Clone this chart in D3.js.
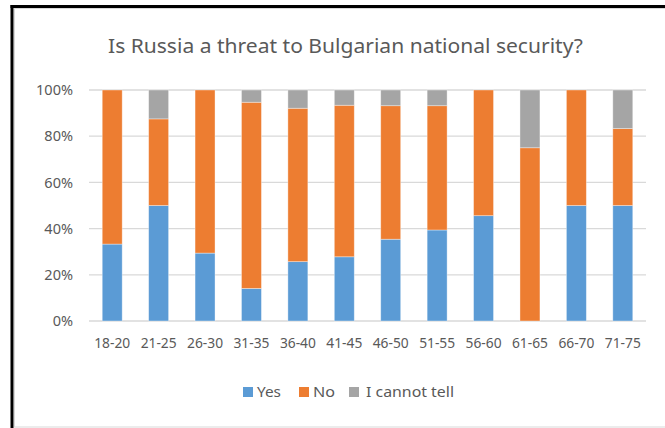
<!DOCTYPE html>
<html><head><meta charset="utf-8">
<script src="https://cdn.jsdelivr.net/npm/d3@7"></script>
<style>body{margin:0;background:#fff}svg{display:block}</style>
</head><body>
<svg id="c" width="665" height="428"></svg>
<script>
const categories = ["18-20","21-25","26-30","31-35","36-40","41-45","46-50","51-55","56-60","61-65","66-70","71-75"];
const yes = [33.3, 50, 29.4, 14.1, 25.7, 27.8, 35.4, 39.4, 45.6, 0, 50, 50];
const no = [66.7, 37.5, 70.6, 80.6, 66.4, 65.6, 57.8, 53.8, 54.4, 75, 50, 33.3];
const cannotTell = [0, 12.5, 0, 5.3, 7.9, 6.6, 6.8, 6.8, 0, 25, 0, 16.7];
const seriesNames = ["Yes","No","I cannot tell"];
const colors = ["#5B9BD5","#ED7D31","#A5A5A5"];
const yTicks = [0,20,40,60,80,100];
const title = "Is Russia a threat to Bulgarian national security?";

const svg = d3.select("#c");
const font = "'Noto Sans', 'Open Sans', sans-serif";
const txt = "#595959";

// frame
svg.append("rect").attr("x",14.5).attr("y",8.5).attr("width",700).attr("height",418.5)
  .attr("fill","none").attr("stroke","#d9d9d9").attr("stroke-width",1);
svg.append("line").attr("x1",12).attr("x2",12).attr("y1",5).attr("y2",428).attr("stroke","#000").attr("stroke-width",3);
svg.append("line").attr("x1",10.5).attr("x2",665).attr("y1",6.5).attr("y2",6.5).attr("stroke","#000").attr("stroke-width",3);

const x = d3.scaleBand().domain(categories).range([89,646]).paddingInner(0.57).paddingOuter(0.285);
const y = d3.scaleLinear().domain([0,100]).range([321,90]);

// gridlines
svg.append("g").selectAll("line").data(yTicks).join("line")
  .attr("x1",89).attr("x2",646).attr("y1",d=>y(d)).attr("y2",d=>y(d))
  .attr("stroke","#d9d9d9").attr("stroke-width",1.3);

// y axis labels
const yAxis = d3.axisLeft(y).tickValues(yTicks).tickFormat(d=>d+"%").tickSize(0).tickPadding(0);
const ya = svg.append("g").attr("transform","translate(73,0)").call(yAxis);
ya.select(".domain").remove();
ya.selectAll("text").attr("font-family",font).attr("font-size",14.5).attr("fill",txt);

// x axis labels
const xAxis = d3.axisBottom(x).tickSize(0).tickPadding(0);
const xa = svg.append("g").attr("transform","translate(0,337)").call(xAxis);
xa.select(".domain").remove();
xa.selectAll("text").attr("font-family",font).attr("font-size",14.5).attr("fill",txt)
  .attr("textLength",36).attr("lengthAdjust","spacingAndGlyphs").attr("dy","0.75em");

// stacked data
const rows = categories.map((c,i)=>({cat:c, "Yes":yes[i], "No":no[i], "I cannot tell":cannotTell[i]}));
const stack = d3.stack().keys(seriesNames)(rows);
svg.append("g").selectAll("g").data(stack).join("g")
  .attr("fill",(d,i)=>colors[i])
  .selectAll("rect").data(d=>d).join("rect")
  .attr("x",d=>x(d.data.cat)).attr("width",x.bandwidth())
  .attr("y",d=>y(d[1])).attr("height",d=>y(d[0])-y(d[1]))
  .attr("stroke","#ffffff").attr("stroke-opacity",0.45).attr("stroke-width",0.8);

// title
svg.append("text").attr("x",345.5).attr("y",53).attr("text-anchor","middle")
  .attr("font-family",font).attr("font-size",19.5).attr("fill",txt)
  .attr("textLength",475).attr("lengthAdjust","spacingAndGlyphs").text(title);

// legend
const legX = [243, 299, 349];
const legW = [24, 22, 88];
const lg = svg.append("g").selectAll("g").data(seriesNames).join("g")
  .attr("transform",(d,i)=>`translate(${legX[i]},387)`);
lg.append("rect").attr("width",10).attr("height",10).attr("fill",(d,i)=>colors[i]);
lg.append("text").attr("x",(d,i)=>i===2?17:14).attr("y",5).attr("dy","0.35em")
  .attr("font-family",font).attr("font-size",14.5).attr("fill",txt)
  .attr("textLength",(d,i)=>legW[i]).attr("lengthAdjust","spacingAndGlyphs").text(d=>d);
</script>
</body></html>
